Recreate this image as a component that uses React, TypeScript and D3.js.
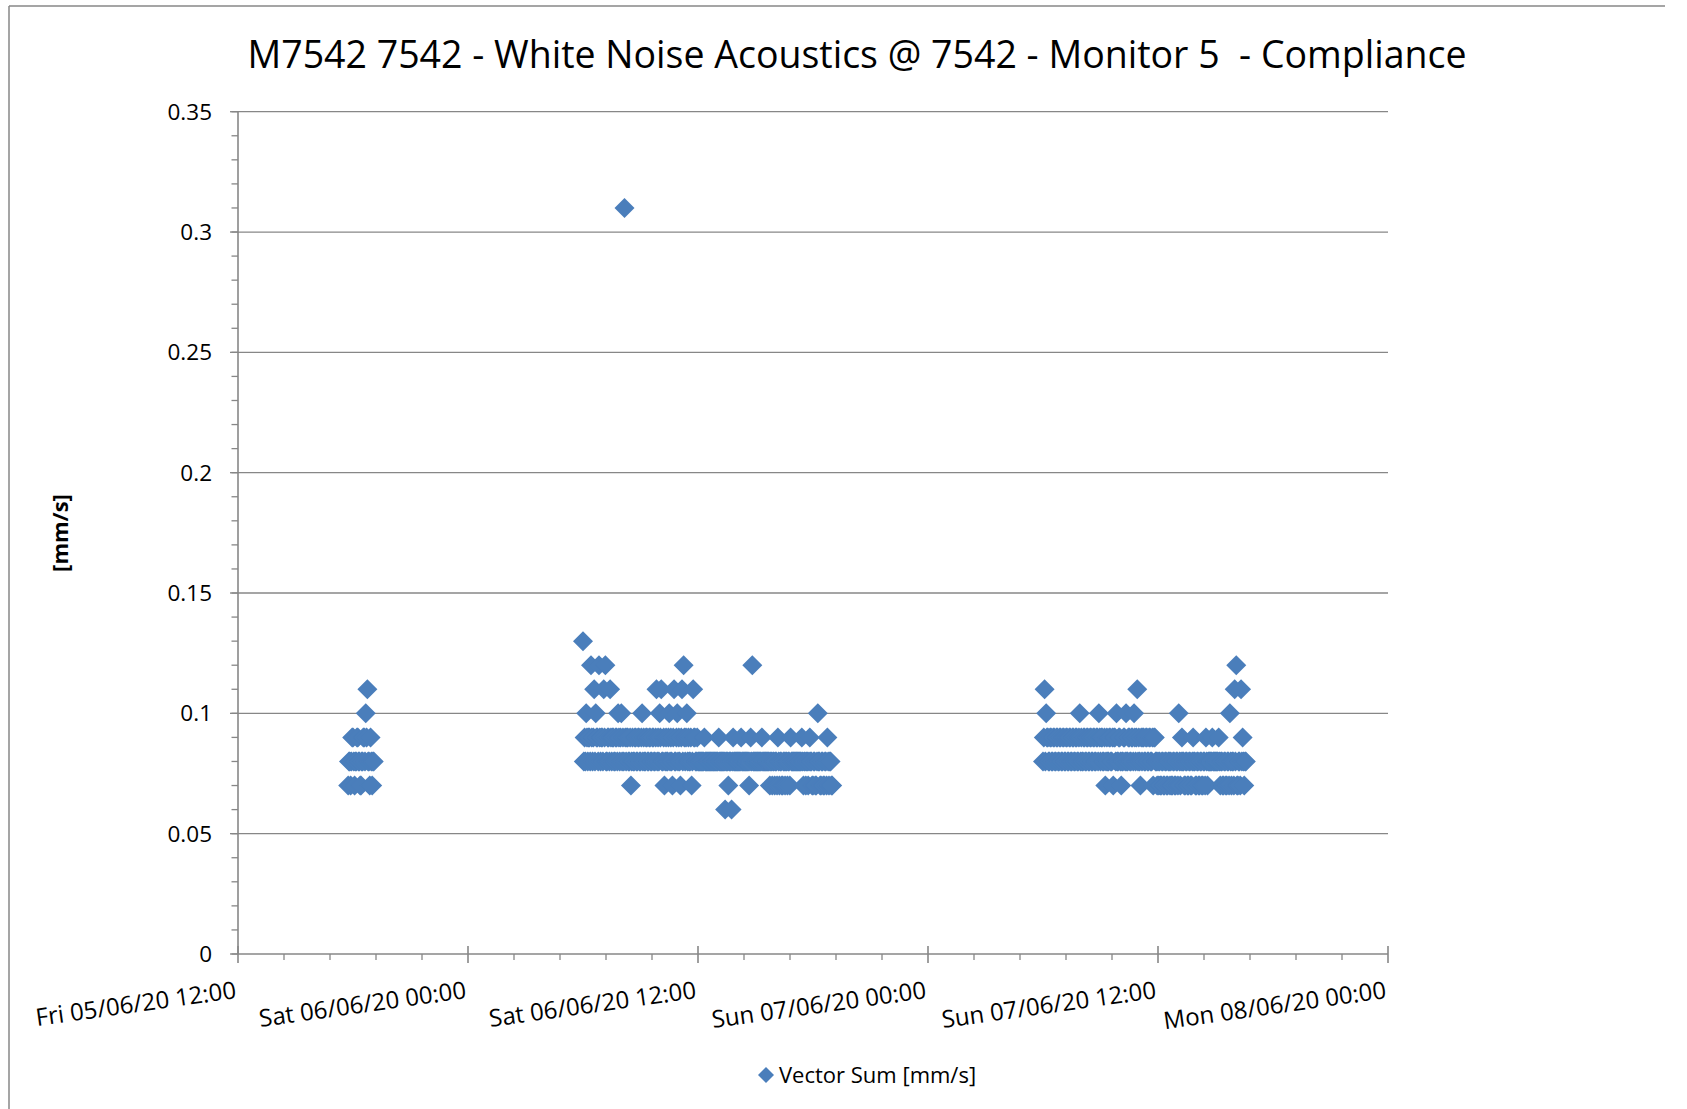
import React from 'react';
import * as d3 from 'd3';

const title = 'M7542 7542 - White Noise Acoustics @ 7542 - Monitor 5  - Compliance';
const seriesName = 'Vector Sum [mm/s]';
const yTitle = '[mm/s]';

// logger readings every 150 s, in hundredths of mm/s
const stepSeconds = 150;
const runStarts = ['2020-06-05T17:45', '2020-06-06T06:00', '2020-06-07T06:00'];

const friEvening = [
  7, 8, 8, 7, 8, 9, 9, 8, 7, 8, 8, 9, 9, 8, 8, 7, 7, 8, 8, 9,
  9, 8, 10, 9, 11, 8, 8, 7, 9, 8, 7, 8, 8,
];

const satDay = [
  13, 8, 9, 8, 10, 9, 8, 9, 9, 8, 12, 9, 8, 9, 11, 8, 10, 9, 9, 8,
  12, 9, 8, 9, 9, 8, 11, 9, 12, 8, 8, 9, 9, 8, 11, 9, 8, 9, 9, 8,
  8, 9, 9, 8, 10, 9, 8, 9, 10, 8, 9, 8, 31, 9, 8, 9, 9, 8, 8, 9,
  7, 8, 9, 8, 8, 9, 9, 8, 8, 9, 9, 8, 8, 9, 10, 8, 9, 8, 8, 9,
  9, 8, 8, 9, 9, 8, 8, 9, 9, 8, 8, 9, 11, 8, 9, 8, 10, 9, 11, 8,
  8, 9, 7, 8, 9, 8, 8, 9, 10, 8, 9, 8, 7, 9, 11, 8, 8, 9, 10, 8,
  9, 8, 7, 9, 11, 8, 12, 9, 8, 9, 10, 8, 9, 8, 8, 9, 7, 8, 11, 9,
  9, 8, 8, 9,
  8, 8, 8, 8, 8, 8, 8, 8, 9, 8, 8, 8, 8, 8, 8, 8,
  8, 8, 8, 8, 8, 8, 8, 8, 8, 8, 9, 8, 8, 8, 8, 8, 8, 8, 6, 8,
  8, 8, 7, 8, 8, 8, 6, 8, 9, 8, 8, 8, 8, 8, 8, 8, 8, 8, 9, 8,
  8, 8, 8, 8, 8, 8, 8, 8, 7, 8, 9, 8, 12, 8, 8, 8, 8, 8, 8, 8,
  8, 8, 8, 8, 9, 8, 8, 8, 8, 8, 8, 8, 8, 8, 7, 8, 8, 7, 8, 8,
  7, 8, 8, 7, 9, 8, 7, 8, 8, 7, 7, 8, 8, 7, 8, 8, 7, 8, 8, 7,
  9, 8, 8, 8, 8, 8, 8, 8, 8, 8, 8, 8, 8, 8, 9, 8, 7, 8, 8, 7,
  8, 8, 7, 8, 9, 8, 8, 7, 7, 8, 8, 7, 7, 8, 10, 8, 8, 7, 7, 8,
  8, 7, 7, 8, 8, 7, 9, 8, 7, 8, 8, 7, 7,
];

const sunDay = [
  8, 9, 11, 8, 10, 9, 9, 8, 8, 9, 9, 8, 8, 9, 9, 8, 8, 9, 9, 8,
  8, 9, 9, 8, 8, 9, 9, 8, 8, 9, 9, 8, 8, 9, 9, 8, 8, 9, 9, 8,
  8, 9, 9, 8, 8, 9, 10, 8, 9, 8, 8, 9, 9, 8, 8, 9, 9, 8, 8, 9,
  9, 8, 8, 9, 9, 8, 8, 9, 9, 8, 10, 9, 8, 9, 9, 8, 8, 9, 7, 8,
  9, 8, 8, 9, 9, 8, 8, 9, 7, 9, 9, 8, 10, 8, 8, 9, 9, 8, 7, 8,
  8, 9, 9, 8, 10, 8, 8, 9, 9, 8, 8, 9, 9, 8, 10, 9, 8, 9, 11, 8,
  9, 8, 7, 9, 8, 9, 9, 8, 8, 9, 9, 8, 8, 9, 9, 8, 8, 9, 7, 9,
  9, 8, 8, 7,
  8, 7, 8, 7, 7, 8, 8, 7, 7, 8, 8, 7, 7, 8, 8, 7, 8, 7, 7, 8,
  8, 7, 7, 8, 8, 7, 10, 8, 7, 8, 9, 8, 8, 7, 7, 8, 8, 7, 7, 8,
  8, 7, 7, 8, 9, 8, 8, 7, 7, 8, 8, 7, 7, 8, 8, 7, 7, 8, 8, 7,
  9, 8,
  7, 8, 8, 8, 8, 8, 9, 8, 8, 8, 8, 8, 8, 8, 9, 8,
  7, 8, 8, 7, 7, 8, 8, 7, 7, 8, 8, 7, 10, 8, 7, 8, 8, 7, 11, 8,
  12, 7, 7, 8, 8, 7, 11, 8, 9, 8, 7, 8, 8,
];

const runs = [friEvening, satDay, sunDay];

const xStart = new Date(2020, 5, 5, 12);
const xEnd = new Date(2020, 5, 8, 0);
const yTickValues = [0, 0.05, 0.1, 0.15, 0.2, 0.25, 0.3, 0.35];

const W = 1687;
const H = 1109;
const plot = { left: 238, right: 1388, top: 111.7, bottom: 954 };
const font = '"Open Sans", "Noto Sans", sans-serif';
const gray = '#878787';
const blue = '#4a7ebb';

export default function App() {
  const points = runs.flatMap((vals, r) => {
    const start = new Date(runStarts[r]);
    return vals.map((v, i) => ({
      t: d3.timeSecond.offset(start, i * stepSeconds),
      v: v / 100,
    }));
  });

  const x = d3.scaleTime().domain([xStart, xEnd]).range([plot.left, plot.right]);
  const y = d3.scaleLinear().domain([0, 0.35]).range([plot.bottom, plot.top]);

  const majorX = x.ticks(d3.timeHour.every(12));
  const minorX = d3.range(0, 26)
    .map((k) => d3.timeMinute.offset(xStart, 144 * k))
    .filter((d) => d.getHours() % 12 !== 0 || d.getMinutes() !== 0);
  const minorY = d3.range(0, 36).map((k) => k / 100);

  const fmtDate = d3.timeFormat('%a %d/%m/%y %H:%M');
  const fmtY = d3.format('~g');

  const marker = d3.symbol(d3.symbolSquare, 200)();
  const legendMarker = d3.symbol(d3.symbolSquare, 128)();

  return (
    <svg width={W} height={H} style={{ position: 'absolute', left: 0, top: 0, display: 'block', background: '#fff' }}
      fontFamily={font}>
      {/* chart frame */}
      <line x1={9} x2={1665} y1={6} y2={6} stroke={gray} strokeWidth={1.5} />
      <line x1={9} x2={9} y1={6} y2={H} stroke={gray} strokeWidth={1.5} />

      <text x={857} y={68} textAnchor="middle" fontSize={37.5} fill="#000" style={{ whiteSpace: 'pre' }}>
        {title}
      </text>

      {/* gridlines */}
      {yTickValues.filter((d) => d > 0).map((d) => (
        <line key={`g-${d}`} x1={plot.left} x2={plot.right} y1={y(d)} y2={y(d)} stroke={gray} strokeWidth={1.3} />
      ))}

      {/* y axis */}
      <line x1={plot.left} x2={plot.left} y1={plot.top} y2={plot.bottom} stroke={gray} strokeWidth={1.6} />
      {minorY.map((d) => (
        <line key={`ym-${d}`} x1={plot.left - 6.5} x2={plot.left} y1={y(d)} y2={y(d)} stroke={gray} strokeWidth={1.3} />
      ))}
      {yTickValues.map((d) => (
        <g key={`yt-${d}`}>
          <line x1={plot.left - 8} x2={plot.left} y1={y(d)} y2={y(d)} stroke={gray} strokeWidth={1.3} />
          <text x={212} y={y(d)} dy="0.36em" textAnchor="end" fontSize={22.5} fill="#000">{fmtY(d)}</text>
        </g>
      ))}
      <text transform={`translate(60,533) rotate(-90)`} textAnchor="middle" dy="0.35em" fontSize={22}
        fontWeight="bold" fill="#000">{yTitle}</text>

      {/* x axis */}
      <line x1={plot.left} x2={plot.right} y1={plot.bottom} y2={plot.bottom} stroke={gray} strokeWidth={1.6} />
      {minorX.map((d) => (
        <line key={`xm-${+d}`} x1={x(d)} x2={x(d)} y1={plot.bottom} y2={plot.bottom + 6} stroke={gray} strokeWidth={1.3} />
      ))}
      {majorX.map((d) => (
        <g key={`xt-${+d}`}>
          <line x1={x(d)} x2={x(d)} y1={plot.bottom - 8} y2={plot.bottom + 9} stroke={gray} strokeWidth={1.6} />
          <text transform={`translate(${x(d) - 1},998) rotate(-8)`} textAnchor="end" fontSize={24} fill="#000">
            {fmtDate(d)}
          </text>
        </g>
      ))}

      {/* series */}
      <g fill={blue}>
        {points.map((p, i) => (
          <path key={i} d={marker} transform={`translate(${x(p.t)},${y(p.v)}) rotate(45)`} />
        ))}
      </g>

      {/* legend */}
      <path d={legendMarker} transform="translate(766,1075) rotate(45)" fill={blue} />
      <text x={779} y={1075} dy="0.35em" fontSize={22} fill="#000">{seriesName}</text>
    </svg>
  );
}
